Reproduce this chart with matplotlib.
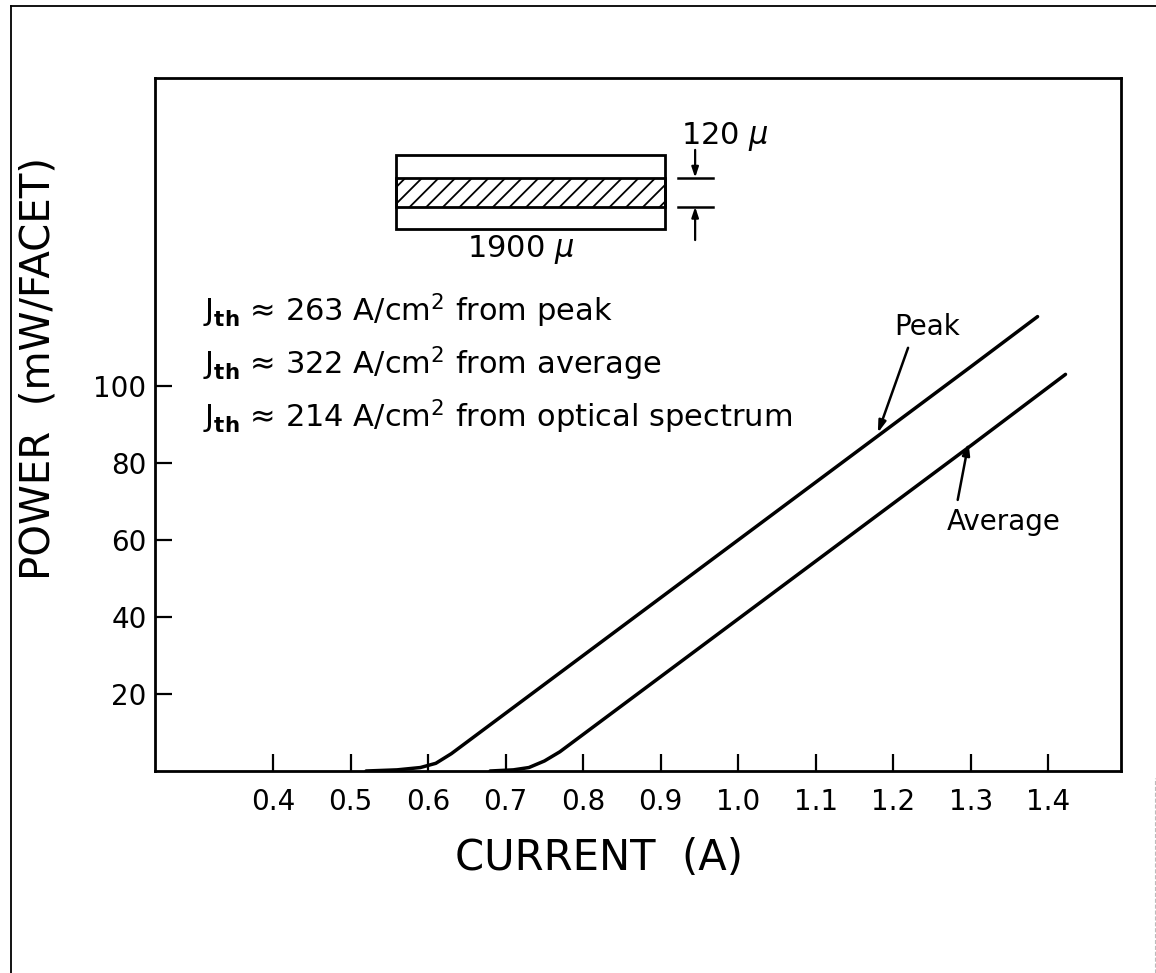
import numpy as np
import matplotlib.pyplot as plt
from matplotlib.patches import Rectangle
from matplotlib.lines import Line2D

# Light output vs drive current, peak and average readings
peak_current = [0.52, 0.56, 0.59, 0.61, 0.63, 0.70, 0.80, 0.90, 1.00, 1.10, 1.20, 1.30, 1.386]
peak_power = [0.0, 0.3, 0.9, 2.0, 4.5, 15.0, 30.0, 45.0, 60.0, 75.0, 90.0, 105.0, 118.0]

avg_current = [0.68, 0.71, 0.73, 0.75, 0.77, 0.80, 0.90, 1.00, 1.10, 1.20, 1.30, 1.422]
avg_power = [0.0, 0.3, 0.9, 2.6, 5.0, 9.5, 24.5, 39.5, 54.5, 69.5, 84.5, 103.0]

x_ticks = [0.4, 0.5, 0.6, 0.7, 0.8, 0.9, 1.0, 1.1, 1.2, 1.3, 1.4]
y_ticks = [20, 40, 60, 80, 100]

jth_values = [263, 322, 214]
jth_sources = ['peak', 'average', 'optical spectrum']

plt.rcParams['font.family'] = ['DejaVu Sans']
plt.rcParams['hatch.linewidth'] = 1.3

fig = plt.figure(figsize=(11.56, 9.73), dpi=100)
ax = fig.add_axes([0.134, 0.2076, 0.836, 0.7124])

ax.plot(peak_current, peak_power, color='black', lw=2.5, solid_capstyle='round')
ax.plot(avg_current, avg_power, color='black', lw=2.5, solid_capstyle='round')

ax.set_xlim(0.2477, 1.494)
ax.set_ylim(0, 180)
ax.set_xticks(x_ticks)
ax.set_xticklabels(['%.1f' % v for v in x_ticks])
ax.set_yticks(y_ticks)
ax.set_yticklabels([str(v) for v in y_ticks])
ax.tick_params(direction='in', length=12, width=1.6, labelsize=20, colors='black')
ax.tick_params(axis='x', pad=12)
ax.tick_params(axis='y', pad=6)
for s in ax.spines.values():
    s.set_linewidth(2.0)

ax.set_xlabel('CURRENT  (A)', fontsize=30)
ax.xaxis.set_label_coords(0.46, -0.095)
ax.set_ylabel('POWER  (mW/FACET)', fontsize=29)
ax.yaxis.set_label_coords(-0.1, 0.58)

# Threshold current densities
for i, (val, src) in enumerate(zip(jth_values, jth_sources)):
    ax.text(0.0497, 0.648 - i * 0.076,
            r'J$_{\mathbf{th}}$ ≈ %d A/cm$^{2}$ from %s' % (val, src),
            transform=ax.transAxes, fontsize=22, va='baseline', ha='left')

# Curve labels with arrows
ax.text(1.244, 115.3, 'Peak', fontsize=20, ha='center', va='center')
ax.annotate('', xy=(1.18, 87.8), xytext=(1.219, 109.9),
            arrowprops=dict(arrowstyle='-|>,head_length=0.7,head_width=0.22',
                            color='black', lw=1.8, shrinkA=0, shrinkB=0))
ax.text(1.342, 64.7, 'Average', fontsize=20, ha='center', va='center')
ax.annotate('', xy=(1.297, 85.2), xytext=(1.283, 70.4),
            arrowprops=dict(arrowstyle='-|>,head_length=0.7,head_width=0.22',
                            color='black', lw=1.8, shrinkA=0, shrinkB=0))

# Chip sketch: stripe geometry
x0, x1 = 0.2495, 0.528
yb, yt = 0.782, 0.889
b0, b1 = 0.814, 0.856
ax.add_patch(Rectangle((x0, yb), x1 - x0, yt - yb, transform=ax.transAxes,
                       fill=False, lw=2.0, ec='black'))
ax.add_patch(Rectangle((x0, b0), x1 - x0, b1 - b0, transform=ax.transAxes,
                       fill=False, lw=2.0, ec='black', hatch='//'))
for yy in (b0, b1):
    ax.plot([0.541, 0.578], [yy, yy], transform=ax.transAxes, color='black', lw=1.8)
ax.annotate('', xy=(0.559, b1), xytext=(0.559, 0.896), xycoords='axes fraction',
            arrowprops=dict(arrowstyle='-|>,head_length=0.6,head_width=0.2',
                            color='black', lw=1.6, shrinkA=0, shrinkB=0))
ax.annotate('', xy=(0.559, b0), xytext=(0.559, 0.766), xycoords='axes fraction',
            arrowprops=dict(arrowstyle='-|>,head_length=0.6,head_width=0.2',
                            color='black', lw=1.6, shrinkA=0, shrinkB=0))
ax.text(0.59, 0.905, r'120 $\mu$', transform=ax.transAxes, fontsize=22,
        ha='center', va='baseline')
ax.text(0.379, 0.742, r'1900 $\mu$', transform=ax.transAxes, fontsize=22,
        ha='center', va='baseline')

# Page border
fig.add_artist(Line2D([0.0095, 0.0095], [0.0, 0.994], color='black', lw=1.3))
fig.add_artist(Line2D([0.0095, 1.0], [0.994, 0.994], color='black', lw=1.3))
fig.add_artist(Line2D([0.999, 0.999], [0.0, 0.2], color='#bbbbbb', lw=0.8, ls='--'))

fig.savefig('out.png', dpi=100)
